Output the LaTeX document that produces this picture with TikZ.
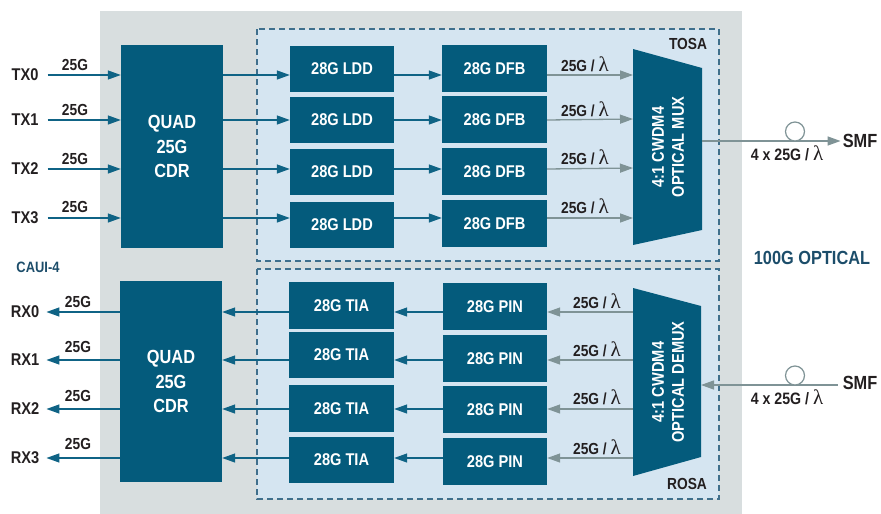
\documentclass[tikz,border=0pt]{standalone}
\usepackage{fontspec}
\setmainfont[FakeStretch=0.86]{Liberation Sans}
\newfontfamily\lamfont{Liberation Serif}
\newcommand\lmb{{\lamfont\mdseries\fontsize{21}{21}\selectfont λ}}
\usetikzlibrary{arrows.meta}
\definecolor{boxc}{HTML}{045B7C}
\definecolor{lightc}{HTML}{D5E5F1}
\definecolor{bgc}{HTML}{D8DEDF}
\definecolor{dashc}{HTML}{3F6F8C}
\definecolor{elc}{HTML}{0F6385}
\definecolor{optc}{HTML}{7F9396}
\definecolor{txtc}{HTML}{231F20}
\definecolor{titlec}{HTML}{1C4D6A}
\tikzset{
  blk/.style={fill=boxc, text=white, inner sep=0pt, font=\bfseries\fontsize{17}{19}\selectfont},
  cdr/.style={blk, minimum width=102pt, align=center, font=\bfseries\fontsize{19}{24.5}\selectfont},
  lbl/.style={text=txtc, inner sep=2pt, font=\bfseries\fontsize{16}{18}\selectfont},
  sig/.style={lbl, font=\bfseries\fontsize{17}{19}\selectfont},
  ea/.style={draw=elc, line width=1.3pt, -{Triangle[length=13pt,width=9pt]}},
  oa/.style={draw=optc, line width=1.3pt, -{Triangle[length=13pt,width=9pt]}},
  assy/.style={fill=lightc, draw=dashc, line width=1.2pt, dash pattern=on 6pt off 4pt},
  fiber/.style={circle, draw=optc, fill=white, line width=1.2pt, minimum size=19pt, inner sep=0pt},
  wdm/.style={text=white, rotate=90, align=center, font=\bfseries\fontsize{17}{20}\selectfont}
}
\begin{document}
\begin{tikzpicture}[x=1pt,y=-1pt]
\useasboundingbox (0,0) rectangle (881,514);
% background
\fill[bgc] (100,11) rectangle (742,514);
\draw[assy] (257,29) rectangle (719,261);
\draw[assy] (257,269) rectangle (719,499);
% row coordinates
\coordinate (r0) at (0,75);
\coordinate (r1) at (0,120);
\coordinate (r2) at (0,169);
\coordinate (r3) at (0,218);
\coordinate (s0) at (0,312);
\coordinate (s1) at (0,360);
\coordinate (s2) at (0,409);
\coordinate (s3) at (0,458);
% CDRs
\node[cdr, minimum height=203pt] (cdrT) at (172,146.5) {QUAD\\25G\\CDR};
\node[cdr, minimum height=201pt] (cdrR) at (171,381.5) {QUAD\\25G\\CDR};
% TX boxes
\node[blk, minimum width=104pt, minimum height=46pt] (ldd0) at (342,69) {28G LDD};
\node[blk, minimum width=104pt, minimum height=46pt] (ldd1) at (342,120) {28G LDD};
\node[blk, minimum width=104pt, minimum height=46pt] (ldd2) at (342,172) {28G LDD};
\node[blk, minimum width=104pt, minimum height=46pt] (ldd3) at (342,224.5) {28G LDD};
\node[blk, minimum width=105pt, minimum height=47pt] (dfb0) at (494.5,68.5) {28G DFB};
\node[blk, minimum width=105pt, minimum height=47pt] (dfb1) at (494.5,119.5) {28G DFB};
\node[blk, minimum width=105pt, minimum height=47pt] (dfb2) at (494.5,171.5) {28G DFB};
\node[blk, minimum width=105pt, minimum height=47pt] (dfb3) at (494.5,223.5) {28G DFB};
% RX boxes
\node[blk, minimum width=105pt, minimum height=47pt] (tia0) at (341.5,305.5) {28G TIA};
\node[blk, minimum width=105pt, minimum height=46pt] (tia1) at (341.5,355) {28G TIA};
\node[blk, minimum width=105pt, minimum height=47pt] (tia2) at (341.5,408.5) {28G TIA};
\node[blk, minimum width=105pt, minimum height=46pt] (tia3) at (341.5,460) {28G TIA};
\node[blk, minimum width=104pt, minimum height=47pt] (pin0) at (495,306.5) {28G PIN};
\node[blk, minimum width=104pt, minimum height=47pt] (pin1) at (495,358.5) {28G PIN};
\node[blk, minimum width=104pt, minimum height=47pt] (pin2) at (495,409.5) {28G PIN};
\node[blk, minimum width=104pt, minimum height=47pt] (pin3) at (495,461.5) {28G PIN};
% MUX / DEMUX
\fill[boxc] (633,49) -- (702,68) -- (702,230) -- (633,245) -- cycle;
\node[wdm] (mux) at (668,147) {4:1 CWDM4\\OPTICAL MUX};
\fill[boxc] (633,288) -- (701,306) -- (701,457) -- (633,476) -- cycle;
\node[wdm] (demux) at (668,382) {4:1 CWDM4\\OPTICAL DEMUX};
\coordinate (muxin0) at (633,75);
\coordinate (muxin1) at (633,119);
\coordinate (muxin2) at (633,168);
\coordinate (muxin3) at (633,218);
\coordinate (muxout) at (702,141);
\coordinate (dmxout0) at (633,312);
\coordinate (dmxout1) at (633,360);
\coordinate (dmxout2) at (633,409);
\coordinate (dmxout3) at (633,458);
\coordinate (dmxin) at (701,385);
% signal labels
\node[sig] (tx0) at (25,75) {TX0};
\node[sig] (tx1) at (25,120) {TX1};
\node[sig] (tx2) at (25,169) {TX2};
\node[sig] (tx3) at (25,218) {TX3};
\node[sig] (rx0) at (25,312) {RX0};
\node[sig] (rx1) at (25,360) {RX1};
\node[sig] (rx2) at (25,409) {RX2};
\node[sig] (rx3) at (25,458) {RX3};
% arrows
\foreach \i in {0,1,2,3}{
  \draw[ea, shorten <=7pt] (tx\i.east |- r\i) -- (cdrT.west |- r\i);
  \draw[ea] (cdrT.east |- r\i) -- (ldd\i.west |- r\i);
  \draw[ea] (ldd\i.east |- r\i) -- (dfb\i.west |- r\i);
  \draw[oa] (dfb\i.east |- r\i) -- (muxin\i);
  \draw[ea, shorten >=5pt] (cdrR.west |- s\i) -- (rx\i.east |- s\i);
  \draw[ea] (tia\i.west |- s\i) -- (cdrR.east |- s\i);
  \draw[ea] (pin\i.west |- s\i) -- (tia\i.east |- s\i);
  \draw[oa] (dmxout\i) -- (pin\i.east |- s\i);
}
% rate labels
\node[lbl] at (75,65) {25G};
\node[lbl] at (75,110) {25G};
\node[lbl] at (75,159) {25G};
\node[lbl] at (75,207) {25G};
\node[lbl] at (78,302) {25G};
\node[lbl] at (78,347) {25G};
\node[lbl] at (78,396) {25G};
\node[lbl] at (78,444) {25G};
\node[lbl] at (585,64) {25G / \lmb};
\node[lbl] at (585,109) {25G / \lmb};
\node[lbl] at (585,157) {25G / \lmb};
\node[lbl] at (585,206) {25G / \lmb};
\node[lbl] at (597,301) {25G / \lmb};
\node[lbl] at (597,349) {25G / \lmb};
\node[lbl] at (597,397) {25G / \lmb};
\node[lbl] at (597,447) {25G / \lmb};
% fibers
\node[sig, font=\bfseries\fontsize{19}{21}\selectfont] (smfT) at (860,141) {SMF};
\node[sig, font=\bfseries\fontsize{19}{21}\selectfont] (smfR) at (860,383) {SMF};
\draw[oa] (muxout) -- (smfT.west |- muxout);
\draw[oa, shorten <=3pt] (smfR.west |- dmxin) -- (dmxin);
\node[fiber] (fibT) at (795,131.5) {};
\node[fiber] (fibR) at (795,375.5) {};
\node[lbl, font=\bfseries\fontsize{16.5}{18}\selectfont] at (787,153) {4 x 25G / \lmb};
\node[lbl, font=\bfseries\fontsize{16.5}{18}\selectfont] at (787,397) {4 x 25G / \lmb};
% titles
\node[lbl] (tosa) at (688,44) {TOSA};
\node[lbl] (rosa) at (687,484) {ROSA};
\node[lbl, text=titlec, font=\bfseries\fontsize{19}{21}\selectfont] (opt) at (812,258) {100G OPTICAL};
\node[lbl, text=titlec, font=\bfseries\fontsize{15}{17}\selectfont] (caui) at (38,267) {CAUI-4};
\end{tikzpicture}
\end{document}
